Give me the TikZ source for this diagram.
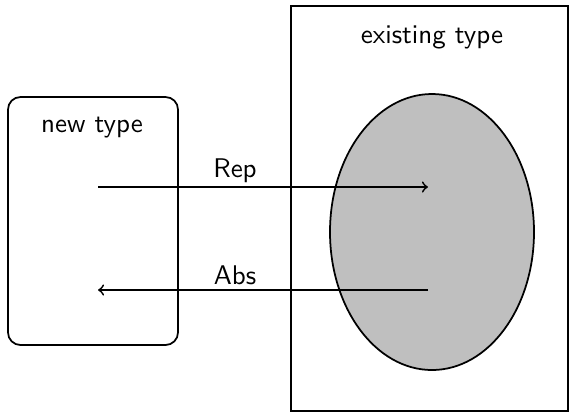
\documentclass[tikz,border=0pt]{standalone}
\usetikzlibrary{shapes.geometric,arrows}
\begin{document}
\begin{tikzpicture}[x=0.4pt,y=-0.4pt,
  box/.style={draw, line width=0.7pt, inner sep=0pt},
  lbl/.style={font=\sffamily\fontsize{10.8}{13}\selectfont},
  conn/.style={line width=0.7pt, -to}]
\useasboundingbox (0,0) rectangle (573,415);
\node[box, rounded corners=5pt, minimum width=68pt, minimum height=99.2pt] (new) at (93,221) {};
\node[box, minimum width=110.8pt, minimum height=162pt] (exist) at (429.5,208.5) {};
\node[box, ellipse, fill=black!25, minimum width=81.6pt, minimum height=110.4pt] (ell) at (432,232) {};
\node[lbl] (newl) at (92,128) {new type};
\node[lbl] (existl) at (432,37) {existing type};
\coordinate (r1) at (98,187);
\coordinate (r2) at (428,187);
\coordinate (a1) at (428,290);
\coordinate (a2) at (98,290);
\draw[conn] (r1) -- (r2);
\draw[conn] (a1) -- (a2);
\node[lbl] (rep) at (235,171) {Rep};
\node[lbl] (abs) at (235,275) {Abs};
\end{tikzpicture}
\end{document}
